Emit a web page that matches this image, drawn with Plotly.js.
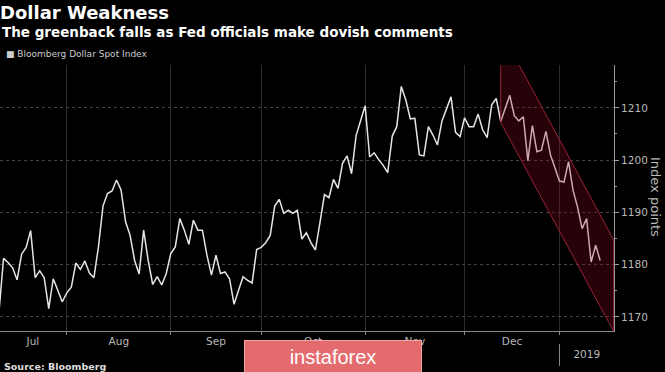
<!DOCTYPE html>
<html>
<head>
<meta charset="utf-8">
<script src="https://cdn.plot.ly/plotly-3.0.1.min.js"></script>
<style>
  html, body { margin: 0; padding: 0; background: #000; }
  #chart { width: 665px; height: 372px; }
</style>
</head>
<body>
<div id="chart"></div>
<script>
// ---- Data: Bloomberg Dollar Spot Index, one value per trading day ----
const monthLabels = ['Jul', 'Aug', 'Sep', 'Oct', 'Nov', 'Dec', '2019'];

const julValues = [1171.0, 1181.2, 1180.4, 1179.4, 1177.1, 1182.0, 1183.3, 1186.5, 1177.5, 1178.8,
                   1177.5, 1171.6, 1177.3, 1175.1, 1172.9];
const augValues = [1174.6, 1175.7, 1180.3, 1179.1, 1180.7, 1178.4, 1177.5, 1183.4, 1191.2, 1193.6,
                   1194.1, 1196.2, 1194.3, 1188.2, 1185.6, 1180.8, 1178.2, 1186.6, 1180.8, 1176.2,
                   1177.7, 1176.1, 1178.3];
const sepValues = [1182.1, 1183.4, 1188.8, 1186.6, 1183.9, 1188.5, 1186.6, 1186.6, 1181.8, 1178.0,
                   1181.8, 1178.3, 1178.6, 1177.3, 1172.4, 1175.1, 1177.7, 1177.0, 1176.5, 1182.9];
const octValues = [1183.3, 1184.2, 1185.6, 1191.2, 1192.5, 1189.8, 1190.4, 1189.8, 1190.4, 1184.9,
                   1186.1, 1184.2, 1182.8, 1188.0, 1193.4, 1192.8, 1196.3, 1194.6, 1199.4, 1200.8,
                   1197.4, 1204.7, 1207.4];
const novValues = [1210.4, 1200.6, 1201.4, 1200.1, 1199.0, 1197.6, 1204.6, 1206.4, 1214.1, 1211.5,
                   1207.9, 1208.0, 1201.0, 1200.8, 1206.4, 1204.8, 1202.9, 1207.5, 1209.9, 1212.1,
                   1205.3, 1204.5];
const decValues = [1208.1, 1206.4, 1206.4, 1208.8, 1205.8, 1204.3, 1210.6, 1211.8, 1207.4, 1209.8,
                   1212.4, 1208.5, 1207.5, 1208.3, 1199.9, 1206.6, 1201.6, 1201.9, 1205.5, 1201.0,
                   1198.5];
const janValues = [1196.0, 1195.8, 1199.7, 1194.2, 1191.0, 1186.9, 1188.8, 1180.5, 1183.7, 1180.8];

// Downward channel (trading-day index, index points)
const channelX      = [111, 136];
const channelTop    = [1224.7, 1184.7];
const channelBottom = [1207.2, 1167.2];

// ---- Build series ----
const monthSeries = [julValues, augValues, sepValues, octValues, novValues, decValues, janValues];
const values = [].concat(...monthSeries);
const xIdx = values.map((_, i) => i);

const monthStarts = [];
let acc = 0;
monthSeries.forEach(m => { monthStarts.push(acc); acc += m.length; });

const xRange = [0.22, 136.06];
const boundaries = monthStarts.slice(1);
const labelPos = monthStarts.map((s, k) => {
  const e = k < monthStarts.length - 1 ? monthStarts[k + 1] : xRange[1];
  return (s + e) / 2;
});
const tickText = monthLabels.map((m, k) => k === monthLabels.length - 1 ? '<br>' + m : m);

const lineTrace = {
  x: xIdx, y: values, type: 'scatter', mode: 'lines',
  line: { color: '#e6e6e6', width: 1.5 },
  hoverinfo: 'skip', showlegend: false
};

const channelTrace = {
  x: [channelX[0], channelX[1], channelX[1], channelX[0], channelX[0]],
  y: [channelTop[0], channelTop[1], channelBottom[1], channelBottom[0], channelTop[0]],
  type: 'scatter', mode: 'lines', fill: 'toself',
  fillcolor: 'rgba(140,8,30,0.28)',
  line: { color: '#992236', width: 1 },
  hoverinfo: 'skip', showlegend: false
};

const tickFont = { family: 'DejaVu Sans', size: 10.5, color: '#b8b8b8' };
const plotTop = 65, plotBottom = 331, plotH = plotBottom - plotTop;
const py = px => (plotBottom - px) / plotH;

const layout = {
  width: 665, height: 372,
  paper_bgcolor: '#000', plot_bgcolor: '#000',
  margin: { l: 0, r: 51, t: 65, b: 41, pad: 0 },
  title: {
    text: '<b>Dollar Weakness</b>',
    font: { family: 'DejaVu Sans', size: 18, color: '#ffffff' },
    x: 0, xref: 'container', xanchor: 'left',
    y: 1 - 12.2 / 372, yref: 'container', yanchor: 'middle',
    pad: { l: 0, t: 0, r: 0, b: 0 }
  },
  xaxis: {
    range: xRange, zeroline: false,
    tickmode: 'array', tickvals: labelPos, ticktext: tickText,
    ticks: '', showgrid: false,
    showline: true, linecolor: '#8a8a8a', linewidth: 1,
    tickfont: tickFont,
    minor: {
      tickmode: 'array', tickvals: boundaries,
      ticks: 'outside', ticklen: 3, tickcolor: '#8a8a8a',
      showgrid: true, gridcolor: '#2c2c2c', gridwidth: 1
    }
  },
  yaxis: {
    side: 'right', range: [1167.3, 1218.2], zeroline: false,
    tickmode: 'linear', tick0: 1170, dtick: 10,
    ticks: 'outside', ticklen: 4, tickcolor: '#9a9a9a',
    showline: true, linecolor: '#9a9a9a', linewidth: 1,
    showgrid: true, gridcolor: '#444444', griddash: 'dot', gridwidth: 1,
    tickfont: tickFont,
    minor: { dtick: 5, tick0: 1165, ticks: 'outside', ticklen: 2, tickcolor: '#9a9a9a', showgrid: false }
  },
  shapes: [
    { type: 'line', xref: 'x', yref: 'paper', x0: monthStarts[6], x1: monthStarts[6],
      y0: py(344), y1: py(366), line: { color: '#8a8a8a', width: 1 } }
  ],
  annotations: [
    { text: '<b>The greenback falls as Fed officials make dovish comments</b>',
      xref: 'paper', yref: 'paper', x: 0, y: py(32.2), xanchor: 'left', yanchor: 'middle',
      showarrow: false, font: { family: 'DejaVu Sans', size: 13.5, color: '#ffffff' } },
    { text: '■ Bloomberg Dollar Spot Index',
      xref: 'paper', yref: 'paper', x: 0.006, y: py(54), xanchor: 'left', yanchor: 'middle',
      showarrow: false, font: { family: 'DejaVu Sans', size: 9, color: '#cccccc' } },
    { text: 'Index points', textangle: 90,
      xref: 'paper', yref: 'paper', x: 656 / 614, y: py(197), xanchor: 'center', yanchor: 'middle',
      showarrow: false, font: { family: 'DejaVu Sans', size: 13, color: '#b8b8b8' } },
    { text: '<b>Source: Bloomberg</b>',
      xref: 'paper', yref: 'paper', x: 0.003, y: py(366), xanchor: 'left', yanchor: 'middle',
      showarrow: false, font: { family: 'DejaVu Sans', size: 9.5, color: '#dddddd' } },
    { text: 'instaforex',
      xref: 'paper', yref: 'paper', x: 333 / 614, y: py(357), xanchor: 'center', yanchor: 'middle',
      showarrow: false, width: 176, height: 32, bgcolor: '#e36b6e',
      bordercolor: '#f2a5a7', borderwidth: 1, borderpad: 0,
      font: { family: 'Liberation Sans', size: 20, color: '#ffffff' } }
  ]
};

Plotly.newPlot('chart', [lineTrace, channelTrace], layout, { displayModeBar: false, staticPlot: true });
</script>
</body>
</html>
